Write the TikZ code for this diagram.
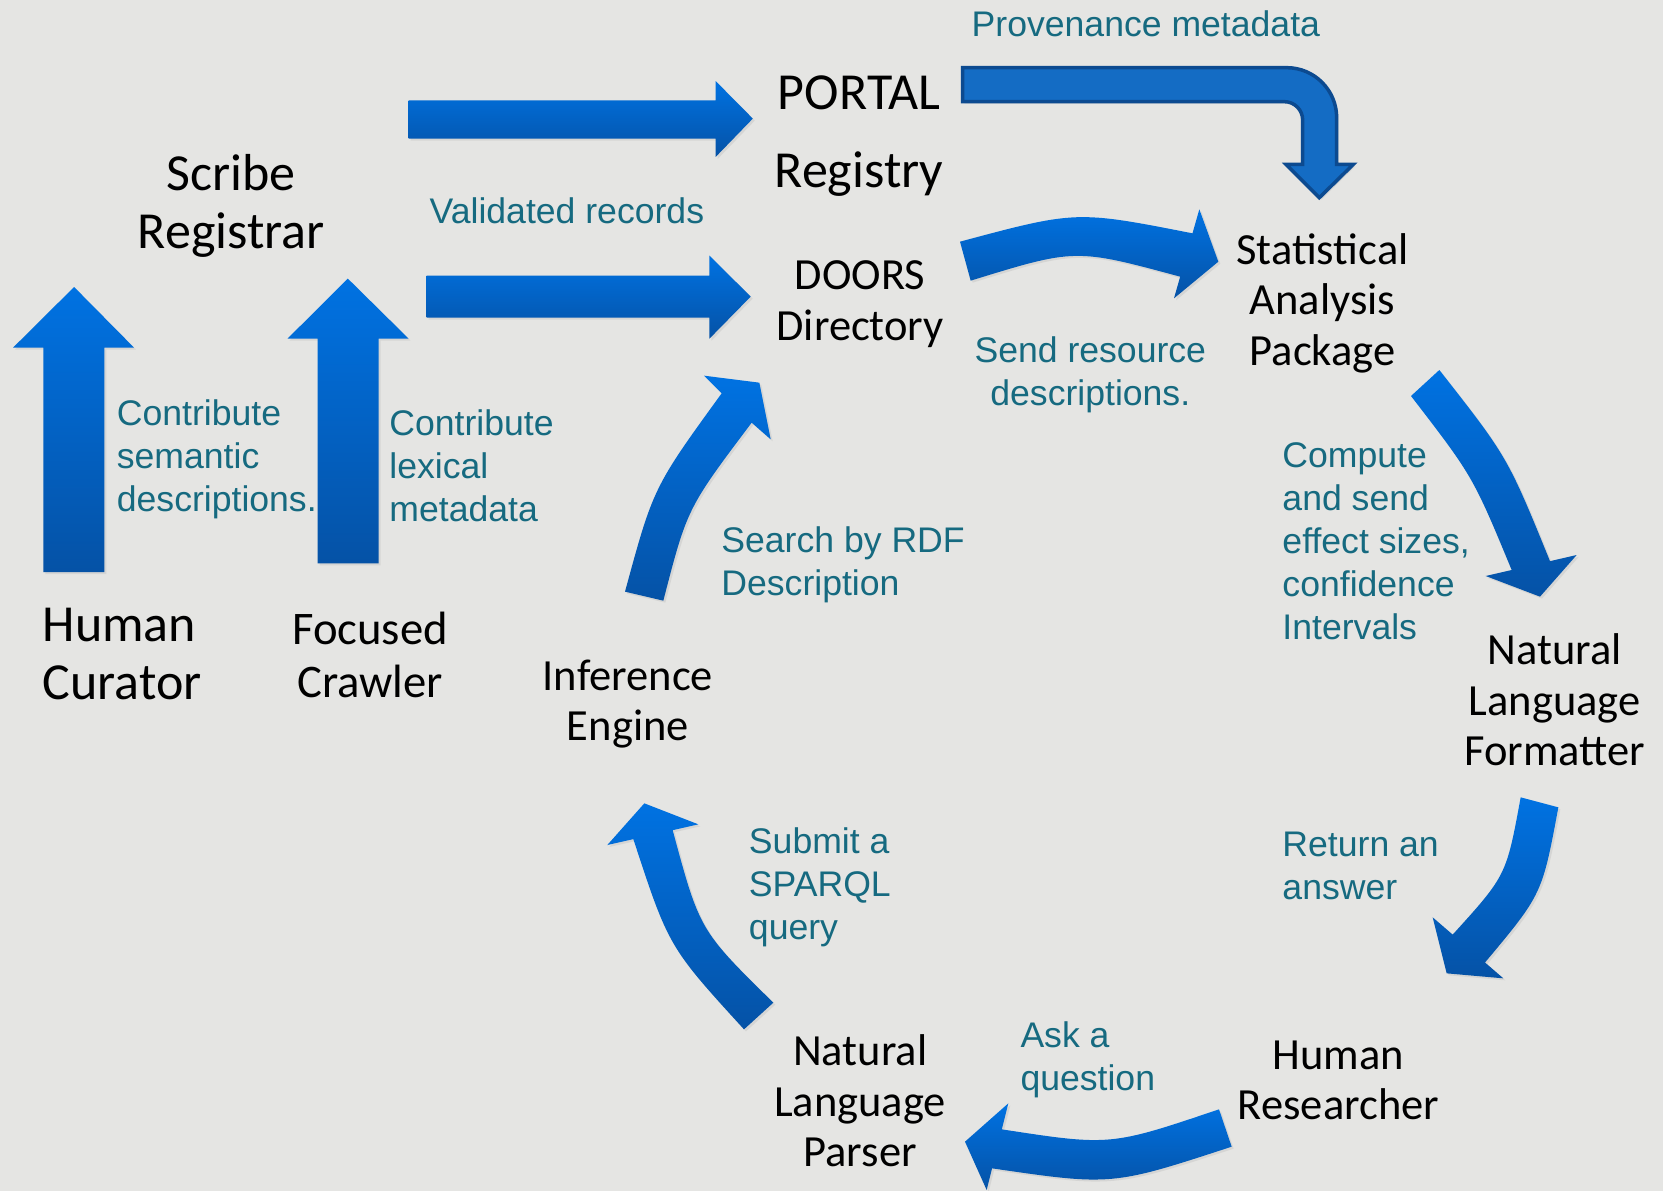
\documentclass[tikz,border=0pt]{standalone}
\usepackage{fontspec}
\setmainfont{Carlito}
\newfontfamily\notefont{Liberation Sans}
\usetikzlibrary{shadows}
\definecolor{bgc}{RGB}{229,229,227}
\definecolor{teal1}{RGB}{22,106,128}
\definecolor{blu1}{RGB}{0,114,226}
\definecolor{blu2}{RGB}{5,82,166}
\definecolor{bentfill}{RGB}{20,108,196}
\definecolor{bentline}{RGB}{12,74,144}
\tikzset{
  blk/.style={top color=blu1, bottom color=blu2,
    drop shadow={opacity=0.15, shadow xshift=2pt, shadow yshift=-2pt}},
  bent/.style={fill=bentfill, draw=bentline, line width=3.5pt,
    drop shadow={opacity=0.15, shadow xshift=2pt, shadow yshift=-2pt}},
  big/.style={font=\fontsize{52}{58}\selectfont, align=center, inner sep=0pt, text=black},
  mid/.style={font=\fontsize{44.5}{50.5}\selectfont, align=center, inner sep=0pt, text=black},
  note/.style={font=\notefont\fontsize{35.6}{43}\selectfont, align=left, inner sep=0pt, text=teal1, anchor=base west},
}
\begin{document}
\begin{tikzpicture}[x=1pt,y=-1pt]
\useasboundingbox (0,0) rectangle (1663,1191);
\fill[bgc] (0,0) rectangle (1663,1191);

% straight arrows
\path[blk] (408.7,100.3) -- (715.7,100.3) -- (715.7,81.1) -- (752.8,118.6) -- (715.7,156.9) -- (715.7,138.5) -- (408.7,138.5) -- cycle;
\path[blk] (426.7,275.5) -- (709.4,275.5) -- (709.4,255.6) -- (750.7,296.6) -- (709.4,338.7) -- (709.4,317.6) -- (426.7,317.6) -- cycle;
\path[blk] (43.4,572.1) -- (43.4,347.5) -- (13.2,347.5) -- (74.1,287) -- (133.9,347.5) -- (104.3,347.5) -- (104.3,572.1) -- cycle;
\path[blk] (317.6,563.3) -- (317.6,338.7) -- (287.5,338.7) -- (347.8,278.6) -- (408.7,338.7) -- (378.5,338.7) -- (378.5,563.3) -- cycle;

% Search by RDF arrow
\begin{scope}[shift={(610,360)}, scale=1/3]
\path[blk] (45,695) .. controls (130,382.5) .. (335,100) -- (282,47) -- (448,68) -- (482,238) -- (425,188) .. controls (231.5,445) .. (160,722) -- cycle;
\end{scope}
% Submit a SPARQL query arrow
\begin{scope}[shift={(600,790)}, scale=1/3]
\path[blk] (432,718) .. controls (206,470.4) .. (100,147.3) -- (22,165) -- (133,40) -- (295,103) -- (218,120.5) .. controls (299,421) .. (520,638) -- cycle;
\end{scope}
% Compute arrow
\begin{scope}[shift={(1395,360)}, scale=1/3]
\path[blk] (133,30) -- (48,108) .. controls (233.6,349) .. (350,630) -- (272,648) -- (435,710) -- (545,585) -- (465,603.5) .. controls (337.8,291.2) .. (133,30) -- cycle;
\end{scope}
% Return an answer arrow
\begin{scope}[shift={(1420,790)}, scale=1/3]
\path[blk] (302,22) -- (415,52) .. controls (366.4,312.7) .. (195,517.5) -- (250,565) -- (80,550) -- (38,382) -- (98,433.8) .. controls (259,256.4) .. (302,22) -- cycle;
\end{scope}
% Ask a question arrow
\begin{scope}[shift={(955,1090)}, scale=1/3]
\path[blk] (792,58) .. controls (466,168) .. (140.5,118) -- (160,40) -- (30,155) -- (95,300) -- (111.25,235) .. controls (471,287.5) .. (830,170) -- cycle;
\end{scope}
% DOORS -> Statistical arrow
\begin{scope}[shift={(950,200)}, scale=1/3]
\path[blk] (30,125) .. controls (379,31.5) .. (727.5,100) -- (748,28) -- (805,185) -- (672,295) -- (690.5,230) .. controls (376,145) .. (62,242) -- cycle;
\end{scope}
% Provenance bent arrow
\begin{scope}[shift={(950,55)}, scale=1/3]
\path[bent] (38,38) -- (1010,38) .. controls (1092.8,38) and (1160,105.2) .. (1160,188) -- (1160,328) -- (1210,328) -- (1108,428) -- (1008,328) -- (1058,328) -- (1058,195) .. controls (1058,164.6) and (1033.4,140) .. (1003,140) -- (38,140) -- cycle;
\end{scope}

% labels (base anchor = baseline of last line)
\begin{scope}[scale=1.0606]
\node[big, anchor=base] (portal) at (810,103) {PORTAL};
\node[big, anchor=base] (registry) at (810,177) {Registry};
\node[big, anchor=base] (scribe) at (218,234.7) {Scribe\\Registrar};
\node[big, anchor=base west, align=left] (curator) at (40,659.7) {Human\\Curator};
\node[mid, font=\fontsize{46.7}{53}\selectfont, anchor=base] (crawler) at (349,658) {Focused\\Crawler};
\node[mid, anchor=base] (doors) at (811,320.6) {DOORS\\Directory};
\node[mid, anchor=base] (stat) at (1247,344.2) {Statistical\\Analysis\\Package};
\node[mid, anchor=base] (infer) at (592,698.6) {Inference\\Engine};
\node[mid, anchor=base] (nlf) at (1466,722.2) {Natural\\Language\\Formatter};
\node[mid, anchor=base] (researcher) at (1262,1055.6) {Human\\Researcher};
\node[mid, anchor=base] (nlp) at (811,1100.2) {Natural\\Language\\Parser};

\node[note] (prov) at (916,34) {Provenance metadata};
\node[note] (valid) at (405,211) {Validated records};
\node[note] (csem) at (110,482) {Contribute\\semantic\\descriptions.};
\node[note] (clex) at (367,492) {Contribute\\lexical\\metadata};
\node[note, align=center, anchor=base] (send) at (1028,382.5) {Send resource\\descriptions.};
\node[note] (search) at (680,561.5) {Search by RDF\\Description};
\node[note] (compute) at (1209,603) {Compute\\and send\\effect sizes,\\confidence\\Intervals};
\node[note] (submit) at (706,886) {Submit a\\SPARQL\\query};
\node[note] (return) at (1209,848.5) {Return an\\answer};
\node[note] (ask) at (962,1028.5) {Ask a\\question};
\end{scope}
\end{tikzpicture}
\end{document}
